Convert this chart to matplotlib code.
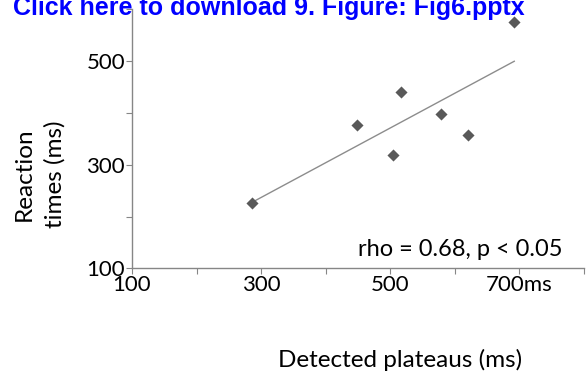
import numpy as np
import matplotlib
matplotlib.use("Agg")
import matplotlib.pyplot as plt

# data
plateaus = [286, 448, 504, 516, 578, 620, 692]
reaction = [227, 376, 319, 440, 398, 358, 575]
xticks = [100, 200, 300, 400, 500, 600, 700, 800]
xlabels = ['100', '', '300', '', '500', '', '700ms', '']
yticks = [100, 200, 300, 400, 500, 600]
ylabels = ['100', '', '300', '', '500', '']

plt.rcParams['font.family'] = ['Lato', 'DejaVu Sans']

fig = plt.figure(figsize=(5.88, 3.79), dpi=100)
ax = fig.add_axes([132/588, 1-268.3/379, (584-132)/588, (268.3-9.3)/379])

# linear trend line
k, b = np.polyfit(plateaus, reaction, 1)
xl = np.array([min(plateaus), max(plateaus)])
ax.plot(xl, k*xl + b, color='#8c8c8c', lw=1.0, zorder=2)
ax.scatter(plateaus, reaction, marker='D', s=38, color='#595959', zorder=3, lw=0)

ax.set_xlim(100, 800)
ax.set_ylim(100, 600)
ax.set_xticks(xticks)
ax.set_xticklabels(xlabels)
ax.set_yticks(yticks)
ax.set_yticklabels(ylabels)
ax.tick_params(axis='both', direction='out', length=4, width=0.8, color='#868686',
               labelsize=16, pad=1)
for s in ['top', 'right']:
    ax.spines[s].set_visible(False)
for s in ['left', 'bottom']:
    ax.spines[s].set_color('#868686')
    ax.spines[s].set_linewidth(1.0)

ax.text(562/588, 1-250/379, 'rho = 0.68, p < 0.05', transform=fig.transFigure,
        ha='right', va='center', fontsize=17)

fig.text(24/588, 1-174/379, 'Reaction', rotation=90, ha='center', va='center', fontsize=17.5)
fig.text(55/588, 1-174/379, 'times (ms)', rotation=90, ha='center', va='center', fontsize=17.5)
fig.text(400/588, 1-360/379, 'Detected plateaus (ms)', ha='center', va='center', fontsize=17.5)

fig.text(13/588, 1-15/379, 'Click here to download 9. Figure: Fig6.pptx', color='#0000ff',
         fontweight='bold', fontsize=18, family=['Liberation Sans', 'DejaVu Sans'],
         ha='left', va='baseline')

fig.savefig('out.png', dpi=100)
